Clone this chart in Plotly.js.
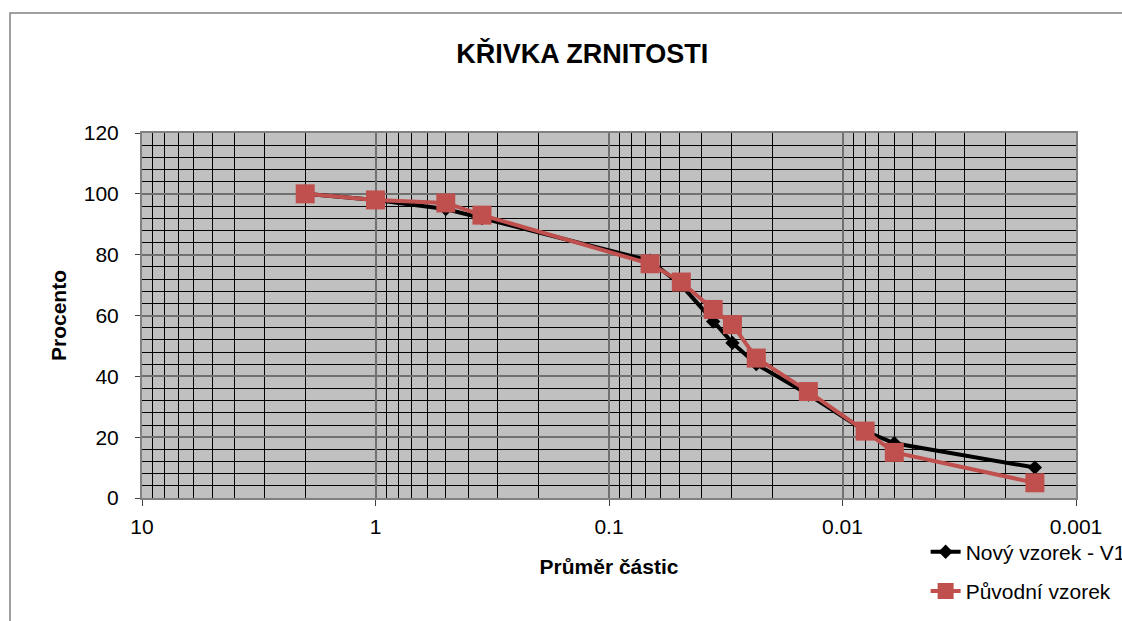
<!DOCTYPE html>
<html>
<head>
<meta charset="utf-8">
<script src="https://cdn.plot.ly/plotly-3.0.1.min.js"></script>
<style>
  body { margin: 0; padding: 0; background: white; }
  #myPlot { width: 1122px; height: 621px; }
</style>
</head>
<body>
<div id="myPlot"></div>
<script>
// particle diameter (mm) and percent passing
var prumer = [2, 1, 0.5, 0.35, 0.0667, 0.049, 0.0358, 0.0296, 0.0234, 0.014, 0.008, 0.006, 0.0015];
var novyVzorek = [100, 98, 95, 92, 78, 70, 58, 51, 44, 34, 22, 18, 10];
var puvodniVzorek = [100, 98, 97, 93, 77, 71, 62, 57, 46, 35, 22, 15, 5];

var xTickVals = [10, 1, 0.1, 0.01, 0.001];
var xTickText = ["10", "1", "0.1", "0.01", "0.001"];

var font = "Liberation Sans, Arial, sans-serif";

var trace1 = {
  x: prumer, y: novyVzorek, name: "Nový vzorek - V1", legendgroup: "a",
  mode: "lines+markers",
  line: {color: "black", width: 4},
  marker: {symbol: "diamond", size: 11, color: "black"}
};
var trace2 = {
  x: prumer, y: puvodniVzorek, name: "Původní vzorek", legendgroup: "b",
  mode: "lines+markers",
  line: {color: "#C0504D", width: 4},
  marker: {symbol: "square", size: 19, color: "#C0504D"}
};

var layout = {
  width: 1122, height: 621,
  margin: {l: 142, r: 46, t: 133, b: 123, autoexpand: false},
  paper_bgcolor: "white",
  plot_bgcolor: "#C0C0C0",
  font: {family: font, size: 21, color: "black"},
  title: {
    text: "KŘIVKA ZRNITOSTI",
    font: {family: font, size: 27, weight: "bold", color: "black"},
    xref: "container", x: 0.519, xanchor: "center",
    yref: "container", y: 0.913, yanchor: "middle"
  },
  xaxis: {
    type: "log", range: [1, -3], autorange: false,
    tickmode: "array", tickvals: xTickVals, ticktext: xTickText,
    ticks: "outside", ticklen: 6, tickcolor: "#404040", tickwidth: 1,
    ticklabelstandoff: 3,
    showgrid: true, gridcolor: "#707070", gridwidth: 2,
    minor: {dtick: "D1", showgrid: true, gridcolor: "black", gridwidth: 1},
    showline: true, mirror: true, linecolor: "#808080", linewidth: 2,
    zeroline: false,
    tickfont: {family: font, size: 21},
    title: {text: "Průměr částic", font: {family: font, size: 21, weight: "bold"}, standoff: 22}
  },
  yaxis: {
    range: [0, 120], autorange: false, dtick: 20,
    ticks: "outside", ticklen: 5, tickcolor: "#404040", tickwidth: 1,
    ticklabelstandoff: 12,
    showgrid: true, gridcolor: "#707070", gridwidth: 2,
    minor: {dtick: 4, showgrid: true, gridcolor: "black", gridwidth: 1},
    showline: true, mirror: true, linecolor: "#808080", linewidth: 2,
    zeroline: false,
    tickfont: {family: font, size: 21},
    title: {text: "Procento", font: {family: font, size: 21, weight: "bold"}, standoff: 11}
  },
  legend: {
    x: 0.839, xanchor: "left", y: -0.092, yanchor: "top",
    bgcolor: "rgba(0,0,0,0)", font: {family: font, size: 21},
    traceorder: "grouped", tracegroupgap: 9
  },
  shapes: [{
    type: "rect", xref: "paper", yref: "paper", layer: "below",
    x0: -0.1413, x1: 1.2, y0: 1.3288, y1: -0.6,
    line: {color: "#808080", width: 1.5}, fillcolor: "rgba(0,0,0,0)"
  }]
};

Plotly.newPlot("myPlot", [trace1, trace2], layout, {displayModeBar: false, staticPlot: true});
</script>
</body>
</html>
